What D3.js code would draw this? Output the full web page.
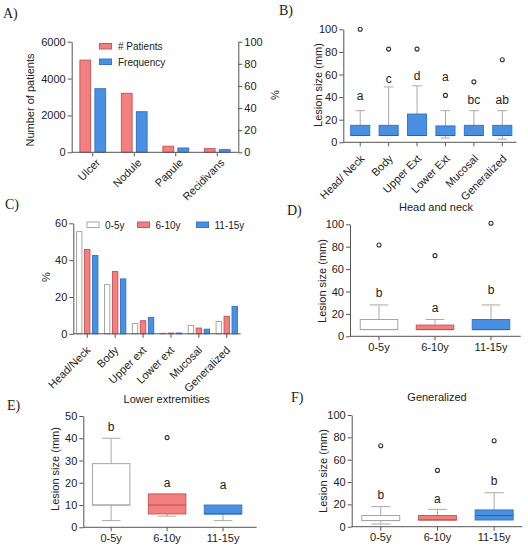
<!DOCTYPE html>
<html>
<head>
<meta charset="utf-8">
<script src="https://cdn.jsdelivr.net/npm/d3@7"></script>
<style>
  body { margin: 0; background: #fff; }
  svg text { font-family: "Liberation Sans", Arial, sans-serif; fill: #222; }
  .plabel { font-family: "Liberation Serif", "Times New Roman", serif !important; font-size: 14px; }
</style>
</head>
<body>
<script>
// ---- data ----
var typeCats = ["Ulcer", "Nodule", "Papule", "Recidivans"];
var typePatients = [5000, 3200, 330, 200];
var typeFreq = [57.5, 36.7, 3.9, 2.4];
var patientTicks = [0, 2000, 4000, 6000];
var pctTicks = [0, 20, 40, 60, 80, 100];

var siteCats = ["Head/ Neck", "Body", "Upper Ext", "Lower Ext", "Mucosal", "Generalized"];
var siteLow = [6, 6, 6, 3.8, 6, 2.7];
var siteQ1 = [6, 6, 6, 6, 6, 6];
var siteMed = [6, 6, 6, 6, 6, 6];
var siteQ3 = [15, 15, 25, 14.5, 15, 15];
var siteHigh = [28, 49, 50, 28, 28, 28];
var siteOut = [100, 82.5, 82.5, 41.5, 53.5, 73];
var siteLetters = ["a", "c", "d", "a", "bc", "ab"];
var siteLetterY = [41, 56, 58, 57, 37.5, 37.5];

var siteCatsC = ["Head/Neck", "Body", "Upper ext", "Lower ext", "Mucosal", "Generalized"];
var ageGroups = ["0-5y", "6-10y", "11-15y"];
var pctAge0 = [55.5, 26.7, 5.6, 0.3, 4.5, 6.7];
var pctAge1 = [45.8, 33.8, 7.1, 0.4, 3.1, 9.5];
var pctAge2 = [42.5, 29.8, 8.9, 0.4, 2.5, 14.9];
var pctCTicks = [0, 20, 40, 60];

var sizeTicks = [0, 20, 40, 60, 80, 100];
var hnLow = [6, 6, 6], hnQ1 = [6, 6, 6], hnMed = [6, 6, 6], hnQ3 = [15, 10, 15], hnHigh = [28, 15, 28];
var hnOut = [81.5, 72, 101], hnLetters = ["b", "a", "b"], hnLetterY = [38, 25, 41];

var leTicks = [0, 10, 20, 30, 40, 50];
var leLow = [3, 5, 3], leQ1 = [10, 6, 6], leMed = [10, 10, 6], leQ3 = [28.6, 15, 10], leHigh = [40, 15, 10];
var leOut = [null, 40.3, null], leLetters = ["b", "a", "a"], leLetterY = [44.8, 19.8, 19];

var gnLow = [2.4, 6, 6], gnQ1 = [5.5, 6, 6], gnMed = [5.5, 6, 10], gnQ3 = [10, 10, 15], gnHigh = [18, 15.5, 30.4];
var gnOut = [72.5, 50.4, 77], gnLetters = ["b", "a", "b"], gnLetterY = [28.4, 24.8, 40.3];

// colours
var fills = ["#ffffff", "#f47f7f", "#4a90e2"];
var strokes = ["#a5a5a5", "#c75a5a", "#3676c8"];
var medCols = ["#a5a5a5", "#b84f4f", "#2a62ad"];
var FONT = "Liberation Sans, Arial, sans-serif";

var svg = d3.select("body").append("svg")
  .attr("width", 528).attr("height", 546);

function styleAxis(a) {
  a.attr("font-size", 11).attr("font-family", FONT);
  a.selectAll("text").attr("fill", "#222");
  a.selectAll("path, line").attr("stroke", "#555");
}

function yAxis(scale, x, ticks, right) {
  var ax = (right ? d3.axisRight(scale) : d3.axisLeft(scale))
    .tickValues(ticks).tickFormat(d3.format("d"))
    .tickSize(4).tickPadding(2).tickSizeOuter(0);
  var a = svg.append("g").attr("transform", "translate(" + x + ",0)").call(ax);
  styleAxis(a);
  return a;
}

// rot = [dx, dy] offset for 45° labels, or null for flat labels
function xAxis(scale, y, x0, x1, rot) {
  var a = svg.append("g").attr("transform", "translate(0," + y + ")")
    .call(d3.axisBottom(scale).tickSize(4).tickSizeOuter(0));
  styleAxis(a);
  a.select(".domain").attr("d", "M" + x0 + ",0H" + x1);
  if (rot) {
    a.selectAll(".tick text")
      .attr("x", 0).attr("y", 0).attr("dy", 0)
      .attr("text-anchor", "end")
      .attr("transform", "translate(" + rot[0] + "," + rot[1] + ") rotate(-45)");
  }
  return a;
}

function yLabel(text, x, y) {
  svg.append("text").attr("transform", "translate(" + x + "," + y + ") rotate(-90)")
    .attr("text-anchor", "middle").attr("dy", "0.35em")
    .attr("font-size", 11).text(text);
}

function title(text, x, y) {
  svg.append("text").attr("x", x).attr("y", y).attr("text-anchor", "middle")
    .attr("dy", "0.35em").attr("font-size", 11).text(text);
}

function panelLabel(text, x, y) {
  svg.append("text").attr("class", "plabel").attr("x", x).attr("y", y).text(text);
}

function boxes(x, y, cats, low, q1, med, q3, high, out, letters, letterY, colIdx) {
  var bw = x.bandwidth() * 0.67;
  cats.forEach(function(c, i) {
    var k = colIdx == null ? i : colIdx;
    var cx = x(c) + x.bandwidth() / 2;
    var g = svg.append("g");
    g.append("line").attr("x1", cx).attr("x2", cx).attr("y1", y(high[i])).attr("y2", y(q3[i]))
      .attr("stroke", "#aaa");
    g.append("line").attr("x1", cx).attr("x2", cx).attr("y1", y(q1[i])).attr("y2", y(low[i]))
      .attr("stroke", "#aaa");
    if (high[i] > q3[i]) {
      g.append("line").attr("x1", cx - bw / 4).attr("x2", cx + bw / 4)
        .attr("y1", y(high[i])).attr("y2", y(high[i])).attr("stroke", "#aaa");
    }
    if (low[i] < q1[i]) {
      g.append("line").attr("x1", cx - bw / 4).attr("x2", cx + bw / 4)
        .attr("y1", y(low[i])).attr("y2", y(low[i])).attr("stroke", "#aaa");
    }
    g.append("rect").attr("x", cx - bw / 2).attr("width", bw)
      .attr("y", y(q3[i])).attr("height", y(q1[i]) - y(q3[i]))
      .attr("fill", fills[k]).attr("stroke", strokes[k]);
    g.append("line").attr("x1", cx - bw / 2).attr("x2", cx + bw / 2)
      .attr("y1", y(med[i])).attr("y2", y(med[i])).attr("stroke", medCols[k]);
    if (out[i] != null) {
      g.append("circle").attr("cx", cx).attr("cy", y(out[i])).attr("r", 2)
        .attr("fill", "none").attr("stroke", "#333").attr("stroke-width", 1.1);
    }
    g.append("text").attr("x", cx).attr("y", y(letterY[i])).attr("dy", "0.3em")
      .attr("text-anchor", "middle").attr("font-size", 12).text(letters[i]);
  });
}

// ---------- A ----------
var xA = d3.scaleBand().domain(typeCats).range([72, 238]);
var yA = d3.scaleLinear().domain([0, 6000]).range([152.3, 41.7]);
var yA2 = d3.scaleLinear().domain([0, 100]).range([152.3, 41.7]);
var barW = 10.7;
typeCats.forEach(function(c, i) {
  var cx = xA(c) + xA.bandwidth() / 2;
  svg.append("rect").attr("x", cx - 7.5 - barW / 2).attr("width", barW)
    .attr("y", yA(typePatients[i])).attr("height", yA(0) - yA(typePatients[i]))
    .attr("fill", fills[1]).attr("stroke", strokes[1]);
  svg.append("rect").attr("x", cx + 7.5 - barW / 2).attr("width", barW)
    .attr("y", yA2(typeFreq[i])).attr("height", yA2(0) - yA2(typeFreq[i]))
    .attr("fill", fills[2]).attr("stroke", strokes[2]);
});
yAxis(yA, 71.7, patientTicks, false);
yAxis(yA2, 238.3, pctTicks, true);
xAxis(xA, 152.3, 71.7, 238.3, [8, 11]);
yLabel("Number of patients", 30, 100);
yLabel("%", 275.5, 95);
svg.append("rect").attr("x", 99.5).attr("y", 43.5).attr("width", 12).attr("height", 5.5)
  .attr("fill", fills[1]).attr("stroke", strokes[1]);
svg.append("text").attr("x", 118).attr("y", 50).attr("font-size", 10).text("# Patients");
svg.append("rect").attr("x", 99.5).attr("y", 59).attr("width", 12).attr("height", 5.5)
  .attr("fill", fills[2]).attr("stroke", strokes[2]);
svg.append("text").attr("x", 118).attr("y", 66).attr("font-size", 10).text("Frequency");
panelLabel("A)", 3, 18);

// ---------- B ----------
var xB = d3.scaleBand().domain(siteCats).range([346, 516.5]);
var yB = d3.scaleLinear().domain([0, 100]).range([142.3, 29.3]);
boxes(xB, yB, siteCats, siteLow, siteQ1, siteMed, siteQ3, siteHigh, siteOut, siteLetters, siteLetterY, 2);
yAxis(yB, 343.3, sizeTicks, false);
xAxis(xB, 142.3, 343.3, 516.5, [5, 17]);
yLabel("Lesion  size (mm)", 318, 85);
panelLabel("B)", 279, 15);

// ---------- C ----------
var xC = d3.scaleBand().domain(siteCatsC).range([73.3, 240.7]);
var yC = d3.scaleLinear().domain([0, 60]).range([333.8, 223.3]);
var xC1 = d3.scaleBand().domain(ageGroups).paddingInner(0.33)
  .range([(xC.bandwidth() - 21.3) / 2, (xC.bandwidth() + 21.3) / 2]);
var pctC = [pctAge0, pctAge1, pctAge2];
siteCatsC.forEach(function(c, i) {
  ageGroups.forEach(function(a, k) {
    var v = pctC[k][i];
    svg.append("rect").attr("x", xC(c) + xC1(a)).attr("width", xC1.bandwidth())
      .attr("y", yC(v)).attr("height", yC(0) - yC(v))
      .attr("fill", fills[k]).attr("stroke", strokes[k]);
  });
});
yAxis(yC, 73.3, pctCTicks, false);
xAxis(xC, 333.8, 73.3, 240.7, [4, 17]);
yLabel("%", 46.5, 277);
var legX = [87, 137.5, 196.5];
ageGroups.forEach(function(a, k) {
  svg.append("rect").attr("x", legX[k]).attr("y", 222).attr("width", 12).attr("height", 5.5)
    .attr("fill", fills[k]).attr("stroke", strokes[k]);
  svg.append("text").attr("x", legX[k] + 18).attr("y", 229).attr("font-size", 10).text(a);
});
panelLabel("C)", 5, 209);

// ---------- D ----------
var xD = d3.scaleBand().domain(ageGroups).range([351, 519]);
var yD = d3.scaleLinear().domain([0, 100]).range([336.3, 224.3]);
boxes(xD, yD, ageGroups, hnLow, hnQ1, hnMed, hnQ3, hnHigh, hnOut, hnLetters, hnLetterY, null);
yAxis(yD, 350, sizeTicks, false);
xAxis(xD, 336.3, 350, 520.7, null);
yLabel("Lesion  size (mm)", 322, 281);
title("Head and neck", 436, 207);
panelLabel("D)", 287, 215);

// ---------- E ----------
var xE = d3.scaleBand().domain(ageGroups).range([83.2, 251]);
var yE = d3.scaleLinear().domain([0, 50]).range([527.3, 416]);
boxes(xE, yE, ageGroups, leLow, leQ1, leMed, leQ3, leHigh, leOut, leLetters, leLetterY, null);
yAxis(yE, 83.3, leTicks, false);
xAxis(xE, 527.3, 83.3, 256.7, null);
yLabel("Lesion  size (mm)", 55, 469);
title("Lower extremities", 166.7, 399);
panelLabel("E)", 7, 410);

// ---------- F ----------
var xF = d3.scaleBand().domain(ageGroups).range([352.4, 522.5]);
var yF = d3.scaleLinear().domain([0, 100]).range([526.7, 415]);
boxes(xF, yF, ageGroups, gnLow, gnQ1, gnMed, gnQ3, gnHigh, gnOut, gnLetters, gnLetterY, null);
yAxis(yF, 351.7, sizeTicks, false);
xAxis(xF, 526.7, 351.7, 522.3, null);
yLabel("Lesion  size (mm)", 323, 471);
title("Generalized", 437, 397);
panelLabel("F)", 291, 402);
</script>
</body>
</html>
